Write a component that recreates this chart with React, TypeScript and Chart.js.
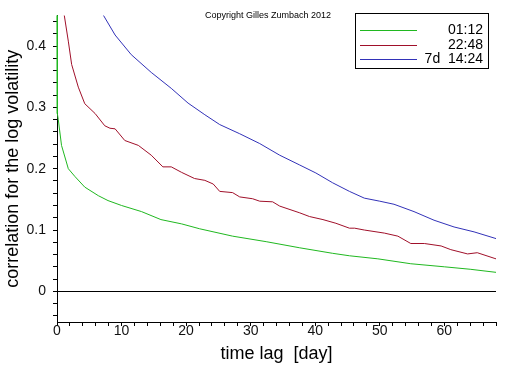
import React, { useEffect, useRef } from "react";
import { Chart, registerables } from "chart.js";

Chart.register(...registerables);

const greenDays = [0, 0.05, 0.2, 0.7, 1.75, 2.8, 4.3, 6.4, 7.9, 10, 13.1, 16.1, 19.3, 22.1, 27.2, 32.4, 37.6, 42.7, 45.3, 49.7, 54.8, 60, 64, 68];
const greenValues = [0.6, 0.29, 0.28, 0.238, 0.2, 0.187, 0.17, 0.156, 0.148, 0.14, 0.13, 0.117, 0.11, 0.102, 0.09, 0.081, 0.071, 0.062, 0.058, 0.053, 0.045, 0.04, 0.036, 0.031];

const redDays = [1.0, 1.13, 1.75, 2.27, 3.3, 4.3, 5.9, 7.4, 8.2, 9, 10.5, 12.6, 14.6, 16.4, 17.7, 19.3, 21.3, 22.9, 24.2, 25.2, 27.2, 28.3, 30.3, 31.4, 33.4, 34.5, 37.6, 39.1, 41.2, 43.2, 45.3, 46.1, 47.6, 50.7, 52.8, 54.8, 56.9, 59.5, 61, 63.6, 65.1, 67.7, 68];
const redValues = [0.47, 0.45, 0.408, 0.37, 0.333, 0.306, 0.29, 0.27, 0.266, 0.265, 0.246, 0.238, 0.222, 0.203, 0.203, 0.194, 0.184, 0.181, 0.175, 0.163, 0.161, 0.154, 0.151, 0.147, 0.146, 0.139, 0.128, 0.122, 0.117, 0.111, 0.103, 0.103, 0.1, 0.095, 0.09, 0.078, 0.078, 0.074, 0.068, 0.061, 0.063, 0.054, 0.053];

const blueDays = [7.0, 7.2, 9, 11.5, 14.6, 17.7, 20.3, 22.9, 25.2, 28.3, 31.4, 34.5, 37.6, 40.1, 42.7, 45.3, 47.6, 50, 52.2, 55.3, 58.4, 61.5, 64.6, 67.7, 68];
const blueValues = [0.47, 0.45, 0.418, 0.386, 0.357, 0.331, 0.307, 0.288, 0.272, 0.257, 0.241, 0.222, 0.206, 0.193, 0.177, 0.163, 0.152, 0.147, 0.142, 0.13, 0.116, 0.105, 0.097, 0.087, 0.086];

const seriesLabels = ["01:12", "22:48", "7d  14:24"];
const seriesColors = ["#20b820", "#a0102a", "#3232b8"];

const xTickValues = [0, 2, 4, 6, 8, 10, 12, 14, 16, 18, 20, 22, 24, 26, 28, 30, 32, 34, 36, 38, 40, 42, 44, 46, 48, 50, 52, 54, 56, 58, 60, 62, 64, 66, 68];
const xTickLabels = ["0", "10", "20", "30", "40", "50", "60"];
const yTickValues = [-0.04, -0.02, 0, 0.02, 0.04, 0.06, 0.08, 0.1, 0.12, 0.14, 0.16, 0.18, 0.2, 0.22, 0.24, 0.26, 0.28, 0.3, 0.32, 0.34, 0.36, 0.38, 0.4, 0.42, 0.44];
const yTickLabels = ["0", "0.1", "0.2", "0.3", "0.4"];

const copyrightText = "Copyright Gilles Zumbach 2012";
const FONT = "'Liberation Sans', Arial, sans-serif";

function pts(xs: number[], ys: number[]) {
  return xs.map((x, i) => ({ x, y: ys[i] }));
}

export default function App() {
  const ref = useRef<HTMLCanvasElement | null>(null);
  useEffect(() => {
    if (!ref.current) return;
    const overlay = {
      id: "overlay",
      afterDraw(chart: any) {
        const ctx = chart.ctx;
        ctx.save();
        ctx.fillStyle = "#000";
        ctx.font = `9px ${FONT}`;
        ctx.textAlign = "left";
        ctx.textBaseline = "middle";
        ctx.fillText(copyrightText, 205, 16);
        const bx = 355.5, by = 13.5, bw = 133, bh = 55;
        ctx.fillStyle = "#fff";
        ctx.fillRect(bx, by, bw, bh);
        ctx.strokeStyle = "#000";
        ctx.lineWidth = 1;
        ctx.strokeRect(bx, by, bw, bh);
        const rows = [30, 45, 59];
        ctx.font = `14px ${FONT}`;
        ctx.textAlign = "right";
        for (let i = 0; i < 3; i++) {
          ctx.beginPath();
          ctx.strokeStyle = seriesColors[i];
          ctx.lineWidth = 1;
          ctx.moveTo(360, rows[i] + 0.5);
          ctx.lineTo(417, rows[i] + 0.5);
          ctx.stroke();
          ctx.fillStyle = "#000";
          ctx.fillText(seriesLabels[i], 483, rows[i]);
        }
        ctx.restore();
      },
    };
    const chart = new Chart(ref.current, {
      type: "line",
      data: {
        datasets: [
          { label: seriesLabels[0], data: pts(greenDays, greenValues), borderColor: seriesColors[0], borderWidth: 1, pointRadius: 0, tension: 0, clip: { left: 2, top: 0, right: 0, bottom: 0 } },
          { label: seriesLabels[1], data: pts(redDays, redValues), borderColor: seriesColors[1], borderWidth: 1, pointRadius: 0, tension: 0 },
          { label: seriesLabels[2], data: pts(blueDays, blueValues), borderColor: seriesColors[2], borderWidth: 1, pointRadius: 0, tension: 0 },
        ],
      },
      options: {
        animation: false,
        responsive: false,
        layout: { padding: { top: 7, right: 16, left: 0, bottom: 0 } },
        plugins: { legend: { display: false }, tooltip: { enabled: false } },
        scales: {
          x: {
            type: "linear",
            min: 0,
            max: 68,
            afterBuildTicks: (scale: any) => {
              scale.ticks = xTickValues.map((v) => ({ value: v }));
            },
            afterFit: (scale: any) => {
              scale.height = 44;
            },
            ticks: {
              autoSkip: false,
              maxRotation: 0,
              padding: -2,
              color: "#111",
              font: { family: FONT, size: 14, lineHeight: 1 },
              callback: (v: any) => (xTickLabels.includes(String(v)) ? String(v) : ""),
            },
            grid: { drawOnChartArea: false, drawTicks: true, tickLength: 4, tickColor: "#000" },
            border: { color: "#000", width: 1 },
            title: {
              display: true,
              text: "time lag  [day]",
              color: "#000",
              font: { family: FONT, size: 18 },
              padding: { top: 0, bottom: 1 },
            },
          },
          y: {
            type: "linear",
            min: -0.05,
            max: 0.45,
            afterBuildTicks: (scale: any) => {
              scale.ticks = yTickValues.map((v) => ({ value: v }));
            },
            afterFit: (scale: any) => {
              scale.width = 57;
            },
            ticks: {
              autoSkip: false,
              padding: 7,
              color: "#111",
              font: { family: FONT, size: 14 },
              callback: (v: any) => {
                const s = String(Math.round(Number(v) * 100) / 100);
                return yTickLabels.includes(s) ? s : "";
              },
            },
            grid: {
              drawOnChartArea: true,
              drawTicks: true,
              tickLength: 4,
              tickColor: "#000",
              color: (c: any) => (c.tick && Math.abs(c.tick.value) < 1e-9 ? "#000" : "rgba(0,0,0,0)"),
            },
            border: { color: "#000", width: 1 },
            title: {
              display: true,
              text: "correlation for the log volatility",
              color: "#000",
              font: { family: FONT, size: 18 },
              padding: { top: 2, bottom: 0 },
            },
          },
        },
      },
      plugins: [overlay],
    } as any);
    return () => chart.destroy();
  }, []);
  return (
    <div style={{ position: "absolute", left: 0, top: 0, width: 512, height: 366, background: "#fff" }}>
      <canvas ref={ref} width={512} height={366} style={{ width: 512, height: 366 }} />
    </div>
  );
}
